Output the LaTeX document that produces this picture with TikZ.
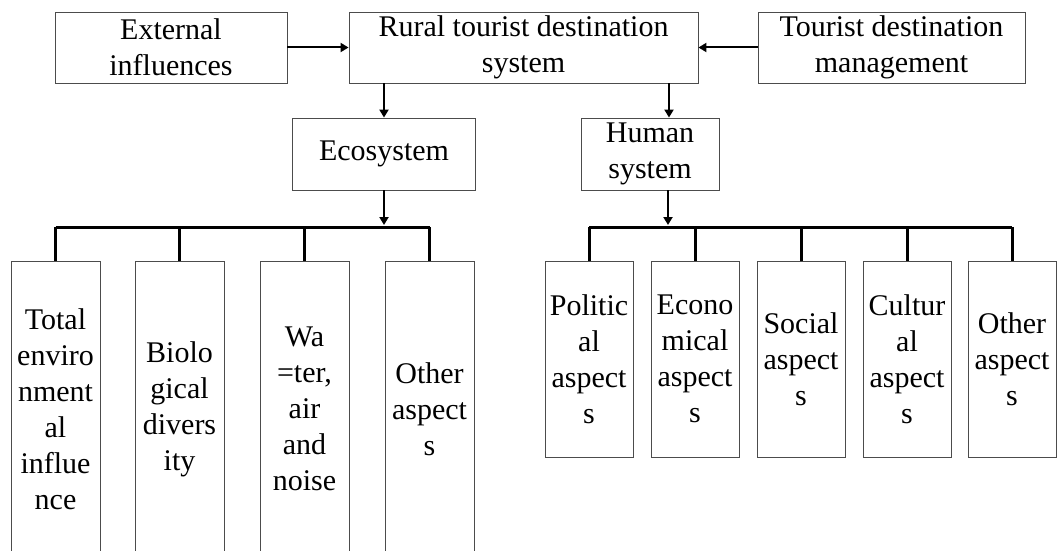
\documentclass[tikz,border=0pt]{standalone}
\usepackage{fontspec}
\setmainfont{Liberation Serif}
\usetikzlibrary{calc,arrows.meta}

\begin{document}
\begin{tikzpicture}[x=1pt,y=-1pt,
  box/.style={draw=black!70, line width=0.9pt, align=center, inner sep=0pt,
    font=\fontsize{30}{36}\selectfont},
  arr/.style={line width=2pt, -{Triangle[length=8pt,width=9pt]}},
  bus/.style={line width=3pt}]
\useasboundingbox (0,0) rectangle (1057,551);
% top row
\node[box, minimum width=232, minimum height=71] (ext) at (171,47.5) {External\\influences};
\node[box, minimum width=349, minimum height=71] (rural) at (523.5,47.5) {Rural tourist destination\\system};
\node[box, minimum width=267, minimum height=71] (tdm) at (891.5,47.5) {Tourist destination\\management};
\draw[arr] (ext) -- (rural);
\draw[arr] (tdm) -- (rural);
% second row
\node[box, minimum width=183, minimum height=72] (eco) at (384,154) {Ecosystem};
\node[box, minimum width=138, minimum height=72] (human) at (650,154) {Human\\system};
\coordinate (hx) at (669,0);
\draw[arr] (rural.south -| eco) -- (eco);
\draw[arr] (rural.south -| hx) -- (human.north -| hx);
% ecosystem aspects
\coordinate (ebus) at (384,227);
\foreach \i/\x/\txt in {1/55.5/{Total\\enviro\\nment\\al\\influe\\nce},
                        2/179.5/{Biolo\\gical\\divers\\ity},
                        3/304.5/{Wa\\=ter,\\air\\and\\noise},
                        4/429.5/{Other\\aspect\\s}}{
  \node[box, minimum width=89, minimum height=296] (e\i) at (\x,409) {\txt};
  \draw[bus] (e\i.north) -- (e\i.north |- ebus);
}
\draw[bus] (e1.north |- ebus) -- (e4.north |- ebus);
\draw[arr] (eco) -- ($(ebus)+(0,-2)$);
% human aspects
\coordinate (hbus) at (668,227);
\foreach \i/\x/\txt in {1/589/{Politic\\al\\aspect\\s},
                        2/695/{Econo\\mical\\aspect\\s},
                        3/801/{Social\\aspect\\s},
                        4/907/{Cultur\\al\\aspect\\s},
                        5/1012/{Other\\aspect\\s}}{
  \node[box, minimum width=88, minimum height=196] (h\i) at (\x,359) {\txt};
  \draw[bus] (h\i.north) -- (h\i.north |- hbus);
}
\draw[bus] (h1.north |- hbus) -- (h5.north |- hbus);
\draw[arr] (human.south -| hbus) -- ($(hbus)+(0,-2)$);
\end{tikzpicture}
\end{document}
